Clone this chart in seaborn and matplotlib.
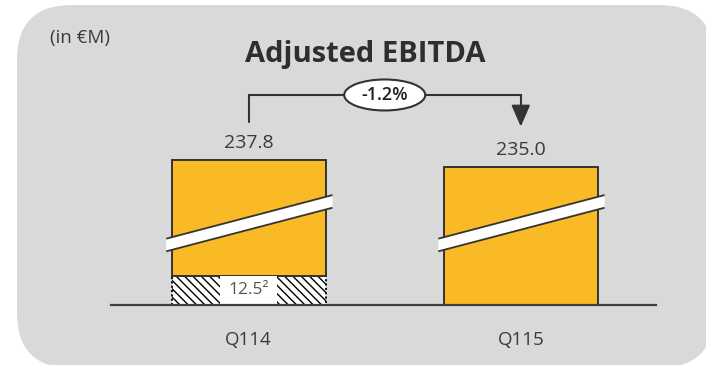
import numpy as np
import pandas as pd
import matplotlib
matplotlib.use("Agg")
import matplotlib.pyplot as plt
from matplotlib.patches import FancyBboxPatch, Rectangle, Ellipse, Polygon
import seaborn as sns

# ---------------- data ----------------
categories = ["Q114", "Q115"]
values = [237.8, 235.0]
hatch_values = [12.5, 0.0]
hatch_labels = ["12.5\u00b2", ""]
title = "Adjusted EBITDA"
unit_label = "(in \u20acM)"
axis_break = 176.0  # value at which the (broken) bars start

# ---------------- style ----------------
W, H = 706, 365
BG_GREY = "#d9d9d9"
ORANGE = "#f9ba25"
DARK = "#333333"
TEXT = "#3a3a3a"
FONT = ["Open Sans", "DejaVu Sans"]

sns.set_theme(style="white")
plt.rcParams["font.family"] = FONT
plt.rcParams["hatch.linewidth"] = 1.0

fig = plt.figure(figsize=(W / 100, H / 100), dpi=100, facecolor="white")

# background rounded panel (pixel coordinates)
bg = fig.add_axes([0, 0, 1, 1], zorder=-5)
bg.set_xlim(0, W)
bg.set_ylim(H, 0)
bg.axis("off")
bg.add_patch(FancyBboxPatch((17, 5), 714 - 17, 368 - 5,
                            boxstyle="round,pad=0,rounding_size=55",
                            fc=BG_GREY, ec="none"))

# main axes: baseline at pixel y=305, x from 111 to 656
ax_left, ax_right = 111 / W, 656 / W
ax_bottom, ax_top = (H - 305) / H, (H - 5) / H
ax = fig.add_axes([ax_left, ax_bottom, ax_right - ax_left, ax_top - ax_bottom])
ax.set_facecolor("none")

df = pd.DataFrame({"cat": categories, "value": values, "hatch": hatch_values})
df["shown"] = df["value"] - axis_break
df["upper"] = df["shown"] - df["hatch"]

BAR_W = 0.566

# upper (orange) part of each bar, sitting on the hatched segment
for _, row in df.iterrows():
    sns.barplot(x=[row["cat"]], y=[row["upper"]], order=categories, ax=ax,
                bottom=row["hatch"], color=ORANGE, saturation=1, width=BAR_W,
                edgecolor=DARK, linewidth=1.4, errorbar=None, zorder=4)

# hatched lower segment
hdf = df[df["hatch"] > 0]
sns.barplot(data=hdf, x="cat", y="hatch", order=categories, ax=ax,
            color="white", saturation=1, width=BAR_W, edgecolor="black",
            linewidth=1.3, linestyle=(0, (1.2, 1.2)), hatch="\\\\\\\\",
            errorbar=None, zorder=3)

ax.set_xlim(-0.506, 1.497)
ax.set_ylim(0, 300 / 2.344)

# labels on the hatched segment
for i, row in df.iterrows():
    if row["hatch"] > 0:
        ax.add_patch(Rectangle((i - 0.105, 0.25), 0.21, row["hatch"] - 0.5,
                               fc="white", ec="none", zorder=5))
        ax.text(i, row["hatch"] / 2, hatch_labels[i], ha="center", va="center",
                fontsize=12.5, color="#555555", zorder=6)

# axis-break bands
for i in range(len(categories)):
    xl, xr = i - BAR_W / 2 - 0.02, i + BAR_W / 2 + 0.025
    yl, yr, half = 25.6, 44.2, 2.7
    band = Polygon([(xl, yl - half), (xr, yr - half), (xr, yr + half), (xl, yl + half)],
                   closed=True, fc="white", ec="none", zorder=7)
    ax.add_patch(band)
    ax.plot([xl, xr], [yl - half, yr - half], color=DARK, lw=1.3, zorder=8,
            solid_capstyle="butt")
    ax.plot([xl, xr], [yl + half, yr + half], color=DARK, lw=1.3, zorder=8,
            solid_capstyle="butt")

# value labels
for i, row in df.iterrows():
    ax.annotate(f"{row['value']:.1f}", (i, row["shown"]), xytext=(0, 12),
                textcoords="offset points", ha="center", va="center",
                fontsize=14, color=TEXT, zorder=9)

# change bracket
v0, v1 = df["shown"].iloc[0], df["shown"].iloc[1]
bracket_y = max(v0, v1) + 27.8
ax.plot([0, 0, 1, 1], [v0 + 16.4, bracket_y, bracket_y, v1 + 23.5],
        color=DARK, lw=1.5, zorder=9, solid_joinstyle="miter")
ax.annotate("", xy=(1, v1 + 17.1), xytext=(1, v1 + 24.0),
            arrowprops=dict(arrowstyle="-|>,head_length=1.1,head_width=0.48",
                            color=DARK, lw=1.5, shrinkA=0, shrinkB=0), zorder=9)
ax.add_patch(Ellipse((0.5, bracket_y), 81 / 272, 31 / 2.344, fc="white",
                     ec=DARK, lw=1.5, zorder=10))
pct = (values[1] / values[0] - 1) * 100
ax.text(0.5, bracket_y, f"{pct:.1f}%", ha="center", va="center", fontsize=13,
        fontweight="semibold", color="#222222", zorder=11)

# axes styling
for s in ["top", "right", "left"]:
    ax.spines[s].set_visible(False)
ax.spines["bottom"].set_color("#404040")
ax.spines["bottom"].set_linewidth(1.6)
ax.spines["bottom"].set_zorder(10)
ax.set_yticks([])
ax.set_xlabel("")
ax.set_ylabel("")
ax.tick_params(axis="x", length=0, pad=19, labelsize=13.5, labelcolor=TEXT)

# title and unit
fig.text(365 / W, 1 - 62 / H, title, ha="center", va="baseline", fontsize=21,
         fontweight="bold", color="#2e2e2e")
fig.text(50 / W, 1 - 43.5 / H, unit_label, ha="left", va="baseline",
         fontsize=13.5, color=TEXT)

fig.savefig("out.png", dpi=100, facecolor="white")
